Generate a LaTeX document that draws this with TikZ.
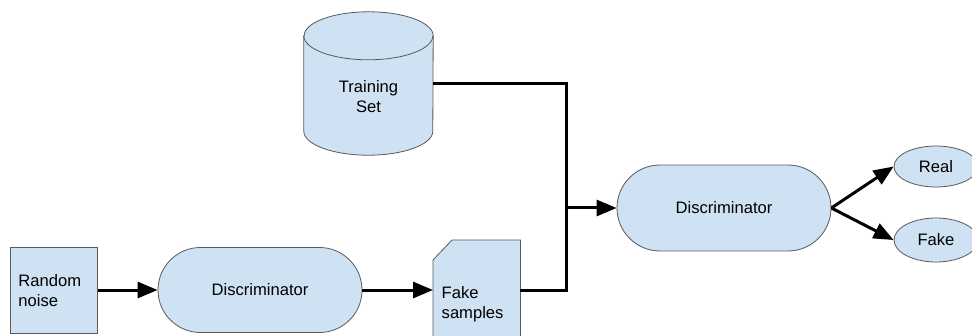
\documentclass[tikz,border=0pt]{standalone}
\usepackage{fontspec}
\setmainfont{Liberation Sans}
\usetikzlibrary{arrows.meta,shapes.geometric,shapes.misc,backgrounds}
\definecolor{shapefill}{HTML}{CFE2F3}
\definecolor{shapeline}{HTML}{595959}
\begin{document}
\begin{tikzpicture}[x=1pt,y=1pt,
  every node/.style={font=\fontsize{16.6}{20}\selectfont},
  shapebox/.style={draw=shapeline, fill=shapefill, line width=0.8pt, inner sep=0pt},
  outline/.style={draw=shapeline, fill=shapefill, line width=0.8pt},
  pill/.style={shapebox, rounded rectangle, minimum width=#1, minimum height=85pt},
  conn/.style={line width=3pt, line join=miter},
  arr/.style={conn, -{Triangle[length=20pt,width=16pt]}}]
\useasboundingbox (0,0) rectangle (972,335);
\clip (0,0) rectangle (972,335);

% input noise
\node[shapebox, rectangle, minimum width=87pt, minimum height=86pt,
      align=left, text width=71pt, anchor=north west] (noise) at (10,88)
      {Random\\noise};

% generator block
\node[pill=204pt] (gen) at (260,45) {Discriminator};

% generated samples (outline with a cut corner drawn behind)
\node[rectangle, inner sep=0pt, minimum width=87pt, minimum height=128pt,
      align=left, text width=70pt, anchor=north west] (samples) at (433,95)
      {Fake\\samples};

% real data store (cylinder drawn behind its label)
\node[rectangle, inner sep=0pt, minimum width=129pt, minimum height=143pt]
      (train) at (368.5,251.5) {};
\node[align=center] (trainlabel) at ([yshift=-13pt]train.center) {Training\\Set};

\begin{pgfonlayer}{background}
  \draw[outline] ([yshift=-20pt]samples.north west) -- ([xshift=19pt]samples.north west)
    -- (samples.north east) -- (samples.south east) -- (samples.south west) -- cycle;
  \draw[outline] ([yshift=-24pt]train.north west) -- ([yshift=24pt]train.south west)
    arc[start angle=180, end angle=360, x radius=64.5pt, y radius=24pt]
    -- ([yshift=-24pt]train.north east)
    arc[start angle=0, end angle=180, x radius=64.5pt, y radius=24pt] -- cycle;
  \draw[outline, fill=none] ([yshift=-24pt]train.north west)
    arc[start angle=180, end angle=360, x radius=64.5pt, y radius=24pt];
\end{pgfonlayer}

% discriminator and its two outcomes
\node[pill=214pt, minimum height=86pt] (disc) at (724,127) {Discriminator};
\node[shapebox, ellipse, minimum width=84pt, minimum height=41pt] (real) at (936,168.5) {Real};
\node[shapebox, ellipse, minimum width=84pt, minimum height=44pt] (fake) at (936,95) {Fake};

\coordinate (junc) at (566,127);

% connectors
\draw[arr] (noise.east |- gen.west) -- (gen.west);
\draw[arr] (gen.east) -- (gen.east -| samples.west);
\draw[conn] (samples.east |- gen.east) -| (junc) |- (train.east);
\draw[arr] (junc) -- (disc.west);
\draw[arr] (disc.east) -- (real.west);
\draw[arr] (disc.east) -- (fake.west);
\end{tikzpicture}
\end{document}
